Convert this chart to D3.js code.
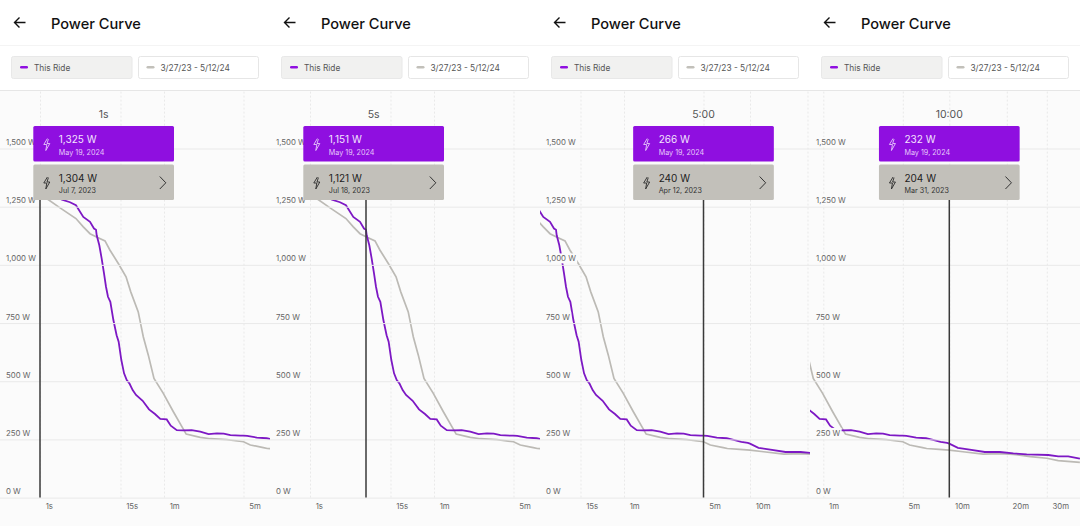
<!DOCTYPE html>
<html>
<head>
<meta charset="utf-8">
<script src="https://cdnjs.cloudflare.com/ajax/libs/d3/7.8.5/d3.min.js"></script>
<style>
  html, body { margin: 0; padding: 0; background: #fff; }
  svg { display: block; font-family: Inter, "Noto Sans", sans-serif; }
</style>
</head>
<body>
<div id="chart"></div>
<script>
// durations in seconds, watts
var rideSeconds = [1, 1.88, 2.37, 2.81, 3.47, 4.21, 4.72, 5, 5.16, 5.8, 6.45, 7.16, 7.83, 8.56, 9.51, 10.9, 12.6, 13.8, 15.4, 16.8, 18.3, 19.9, 22.1, 24.6, 30.4, 37.2, 45, 53.3, 63.4, 68.8, 77.7, 87.8, 105, 125, 148, 175, 201, 230, 282, 300, 317, 366, 424, 478, 527, 581, 600, 665, 767, 920, 1104, 1282, 1468, 1827, 2021, 2236, 2516];
var rideWatts = [1325, 1280, 1269, 1256, 1206, 1185, 1156, 1151, 1127, 1084, 1027, 963, 906, 863, 841, 763, 698, 670, 591, 534, 505, 491, 462, 441, 416, 379, 359, 338, 336, 309, 290, 289, 290, 283, 273, 276, 275, 268, 266, 266, 265, 258, 255, 247, 239, 235, 232, 214, 206, 196, 196, 190, 186, 183, 177, 177, 167];

var bestSeconds = [1, 1.21, 1.78, 2.81, 3.47, 4.21, 5, 7.49, 9.37, 13.6, 17.9, 20.8, 26.4, 31, 36.4, 43.6, 58.7, 72.5, 94, 125, 153, 215, 300, 332, 403, 428, 515, 600, 707, 902, 1104, 1282, 1522, 1800, 2021, 2516];
var bestWatts = [1304, 1285, 1245, 1199, 1163, 1134, 1121, 1103, 1063, 1006, 949, 884, 798, 691, 612, 512, 448, 369, 273, 259, 253, 249, 240, 226, 215, 211, 207, 204, 197, 187, 189, 186, 176, 169, 159, 151];

var wattTicks = [0, 250, 500, 750, 1000, 1250, 1500];
var timeTicks = [1, 15, 60, 300, 600, 1200, 1800];
var timeLabels = ['1s', '15s', '1m', '5m', '10m', '20m', '30m'];

var panelTitles = ['1s', '5s', '5:00', '10:00'];
var cursorSeconds = [1, 5, 300, 600];
var rideValues = ['1,325 W', '1,151 W', '266 W', '232 W'];
var rideDates = ['May 19, 2024', 'May 19, 2024', 'May 19, 2024', 'May 19, 2024'];
var bestValues = ['1,304 W', '1,121 W', '240 W', '204 W'];
var bestDates = ['Jul 7, 2023', 'Jul 18, 2023', 'Apr 12, 2023', 'Mar 31, 2023'];
var legendRide = 'This Ride';
var legendBest = '3/27/23 - 5/12/24';
var screenTitle = 'Power Curve';

// layout
var width = 1080, height = 526;
var panelWidth = 270;
var scrollLeft = [0, 0, 80, 150.7];
var purple = '#8f0fe0', purpleLine = '#7d18c4', grey = '#c2c0ba', greyLine = '#bcbab5';
var tipWidth = 140.7, tipHeight = 35.5;

var svg = d3.select('#chart').append('svg')
    .attr('width', width)
    .attr('height', height);

// the x axis of the app is not a plain log scale, so it is pieced together
var x = d3.scaleLog()
    .domain([1, 5, 15, 60, 300, 600, 1200, 1800, 3600])
    .range([40, 96, 120.5, 164, 243.5, 290, 347.5, 387.5, 456]);

var y = d3.scaleLinear().domain([0, 1500]).range([497.6, 148.5]);

var line = d3.line()
    .x(function(d) { return x(d[0]); })
    .y(function(d) { return y(d[1]); });

var ridePoints = d3.zip(rideSeconds, rideWatts);
var bestPoints = d3.zip(bestSeconds, bestWatts);

var defs = svg.append('defs');
defs.append('clipPath').attr('id', 'panelClip')
    .append('rect').attr('width', panelWidth).attr('height', height);

function boltIcon(g, tx, ty, color) {
    g.append('path')
        .attr('transform', 'translate(' + tx + ',' + ty + ')')
        .attr('d', 'M3.6,0 L0,6 L3,6 L2,12 L6,5 L3.2,5 L4.6,0.6')
        .attr('fill', 'none')
        .attr('stroke', color)
        .attr('stroke-width', 0.9)
        .attr('stroke-linejoin', 'round');
}

function drawPanel(i) {
    var panel = svg.append('g')
        .attr('transform', 'translate(' + (i * panelWidth) + ',0)')
        .attr('clip-path', 'url(#panelClip)');

    // header
    panel.append('rect').attr('width', panelWidth).attr('height', 91).attr('fill', '#fff');
    panel.append('path')
        .attr('d', 'M25.5,22.5 H15 M19.5,17.5 L14.5,22.5 L19.5,27.5')
        .attr('fill', 'none').attr('stroke', '#111').attr('stroke-width', 1.4);
    panel.append('text').attr('x', 51).attr('y', 28.5)
        .attr('font-size', 14.6).attr('font-weight', 500).attr('fill', '#111')
        .text(screenTitle);
    panel.append('line').attr('x1', 0).attr('x2', panelWidth).attr('y1', 45.5).attr('y2', 45.5)
        .attr('stroke', '#f4f4f4');

    // legend chips
    panel.append('rect').attr('x', 11.5).attr('y', 56.5).attr('width', 120.5).attr('height', 22).attr('rx', 2)
        .attr('fill', '#f1f1f0').attr('stroke', '#e8e8e8');
    panel.append('rect').attr('x', 20).attr('y', 66).attr('width', 8).attr('height', 2.6).attr('rx', 1.3)
        .attr('fill', purple);
    panel.append('text').attr('x', 34).attr('y', 70.5)
        .attr('font-size', 8.3).attr('fill', '#555').text(legendRide);
    panel.append('rect').attr('x', 138.5).attr('y', 56.5).attr('width', 120).attr('height', 22).attr('rx', 2)
        .attr('fill', '#fff').attr('stroke', '#e6e6e6');
    panel.append('rect').attr('x', 146.5).attr('y', 66).attr('width', 8).attr('height', 2.6).attr('rx', 1.3)
        .attr('fill', grey);
    panel.append('text').attr('x', 160.5).attr('y', 70.5)
        .attr('font-size', 8.3).attr('fill', '#555').text(legendBest);

    // plot background
    panel.append('rect').attr('y', 90).attr('width', panelWidth).attr('height', height - 90).attr('fill', '#fbfbfb');
    panel.append('line').attr('x1', 0).attr('x2', panelWidth).attr('y1', 90.5).attr('y2', 90.5)
        .attr('stroke', '#e6e6e6');

    var plot = panel.append('g').attr('transform', 'translate(' + (-scrollLeft[i]) + ',0)');

    // x axis: dashed grid + labels just right of each line
    var xAxis = d3.axisBottom(x)
        .tickValues(timeTicks)
        .tickFormat(function(d, k) { return timeLabels[k]; })
        .tickSize(-(y(0) - 91))
        .tickPadding(0);
    var xg = plot.append('g').attr('transform', 'translate(0,' + y(0) + ')').call(xAxis);
    xg.select('.domain').remove();
    xg.selectAll('line').attr('stroke', '#e9e9e9').attr('stroke-dasharray', '2,2');
    xg.selectAll('text')
        .attr('text-anchor', 'start')
        .attr('x', 5.2)
        .attr('y', 6)
        .attr('dy', '0.71em')
        .attr('font-family', 'Inter, sans-serif')
        .attr('font-size', 7.8)
        .attr('fill', '#666');
    // labels of ticks scrolled out of this panel go away
    xg.selectAll('text')
        .filter(function(d) {
            var px = x(d) - scrollLeft[i];
            return px < 0 || px + 25 > panelWidth;
        })
        .remove();

    // horizontal grid
    var yAxis = d3.axisLeft(y).tickValues(wattTicks).tickSize(-panelWidth).tickFormat('');
    var yg = panel.append('g').call(yAxis);
    yg.select('.domain').remove();
    yg.selectAll('line').attr('stroke', '#e9e9e9');

    // curves
    plot.append('path').datum(bestPoints)
        .attr('d', line).attr('fill', 'none')
        .attr('stroke', greyLine).attr('stroke-width', 1.7);
    plot.append('path').datum(ridePoints)
        .attr('d', line).attr('fill', 'none')
        .attr('stroke', purpleLine).attr('stroke-width', 1.8);

    // cursor
    var cx = x(cursorSeconds[i]) - scrollLeft[i];
    panel.append('line')
        .attr('x1', cx).attr('x2', cx)
        .attr('y1', 195).attr('y2', y(0))
        .attr('stroke', '#3a3a3a').attr('stroke-width', 1.5);

    // watt labels sit on a background chip, so the curves break behind them
    var labels = panel.append('g').selectAll('g')
        .data(wattTicks)
        .enter().append('g')
        .attr('transform', function(d) { return 'translate(6,' + (y(d) - 6.2) + ')'; });
    var labelText = labels.append('text')
        .attr('dy', '0.35em')
        .attr('font-size', 7.8)
        .attr('fill', '#666')
        .text(function(d) { return d3.format(',')(d) + ' W'; });
    labels.insert('rect', 'text')
        .each(function(d, k) {
            var b = labelText.nodes()[k].getBBox();
            d3.select(this)
                .attr('x', b.x - 1).attr('y', b.y)
                .attr('width', b.width + 2).attr('height', b.height)
                .attr('fill', '#fbfbfb');
        });

    // tooltip centred on the cursor, held back at the left edge
    var tipX = Math.max(33.3, cx - tipWidth / 2);
    panel.append('text')
        .attr('x', tipX + tipWidth / 2).attr('y', 118)
        .attr('text-anchor', 'middle')
        .attr('font-size', 10.5).attr('fill', '#555')
        .text(panelTitles[i]);

    var tip = panel.append('g').attr('transform', 'translate(' + tipX + ',126)');
    tip.append('rect').attr('width', tipWidth).attr('height', tipHeight).attr('rx', 1.5).attr('fill', purple);
    boltIcon(tip, 10.5, 12.5, '#e6c8fb');
    tip.append('text').attr('x', 25.5).attr('y', 17)
        .attr('font-size', 10).attr('fill', '#f3e3fe').text(rideValues[i]);
    tip.append('text').attr('x', 25.5).attr('y', 28.5)
        .attr('font-size', 7.2).attr('fill', '#e6c8fb').text(rideDates[i]);

    tip.append('rect').attr('y', 38.5).attr('width', tipWidth).attr('height', tipHeight).attr('rx', 1.5).attr('fill', grey);
    boltIcon(tip, 10.5, 51, '#2a2a2a');
    tip.append('text').attr('x', 25.5).attr('y', 55.5)
        .attr('font-size', 10).attr('fill', '#222').text(bestValues[i]);
    tip.append('text').attr('x', 25.5).attr('y', 67)
        .attr('font-size', 7.2).attr('fill', '#333').text(bestDates[i]);
    tip.append('path')
        .attr('d', 'M126.5,50.5 L132.5,56.8 L126.5,63')
        .attr('fill', 'none').attr('stroke', '#333').attr('stroke-width', 1);
}

panelTitles.forEach(function(t, i) { drawPanel(i); });
</script>
</body>
</html>
